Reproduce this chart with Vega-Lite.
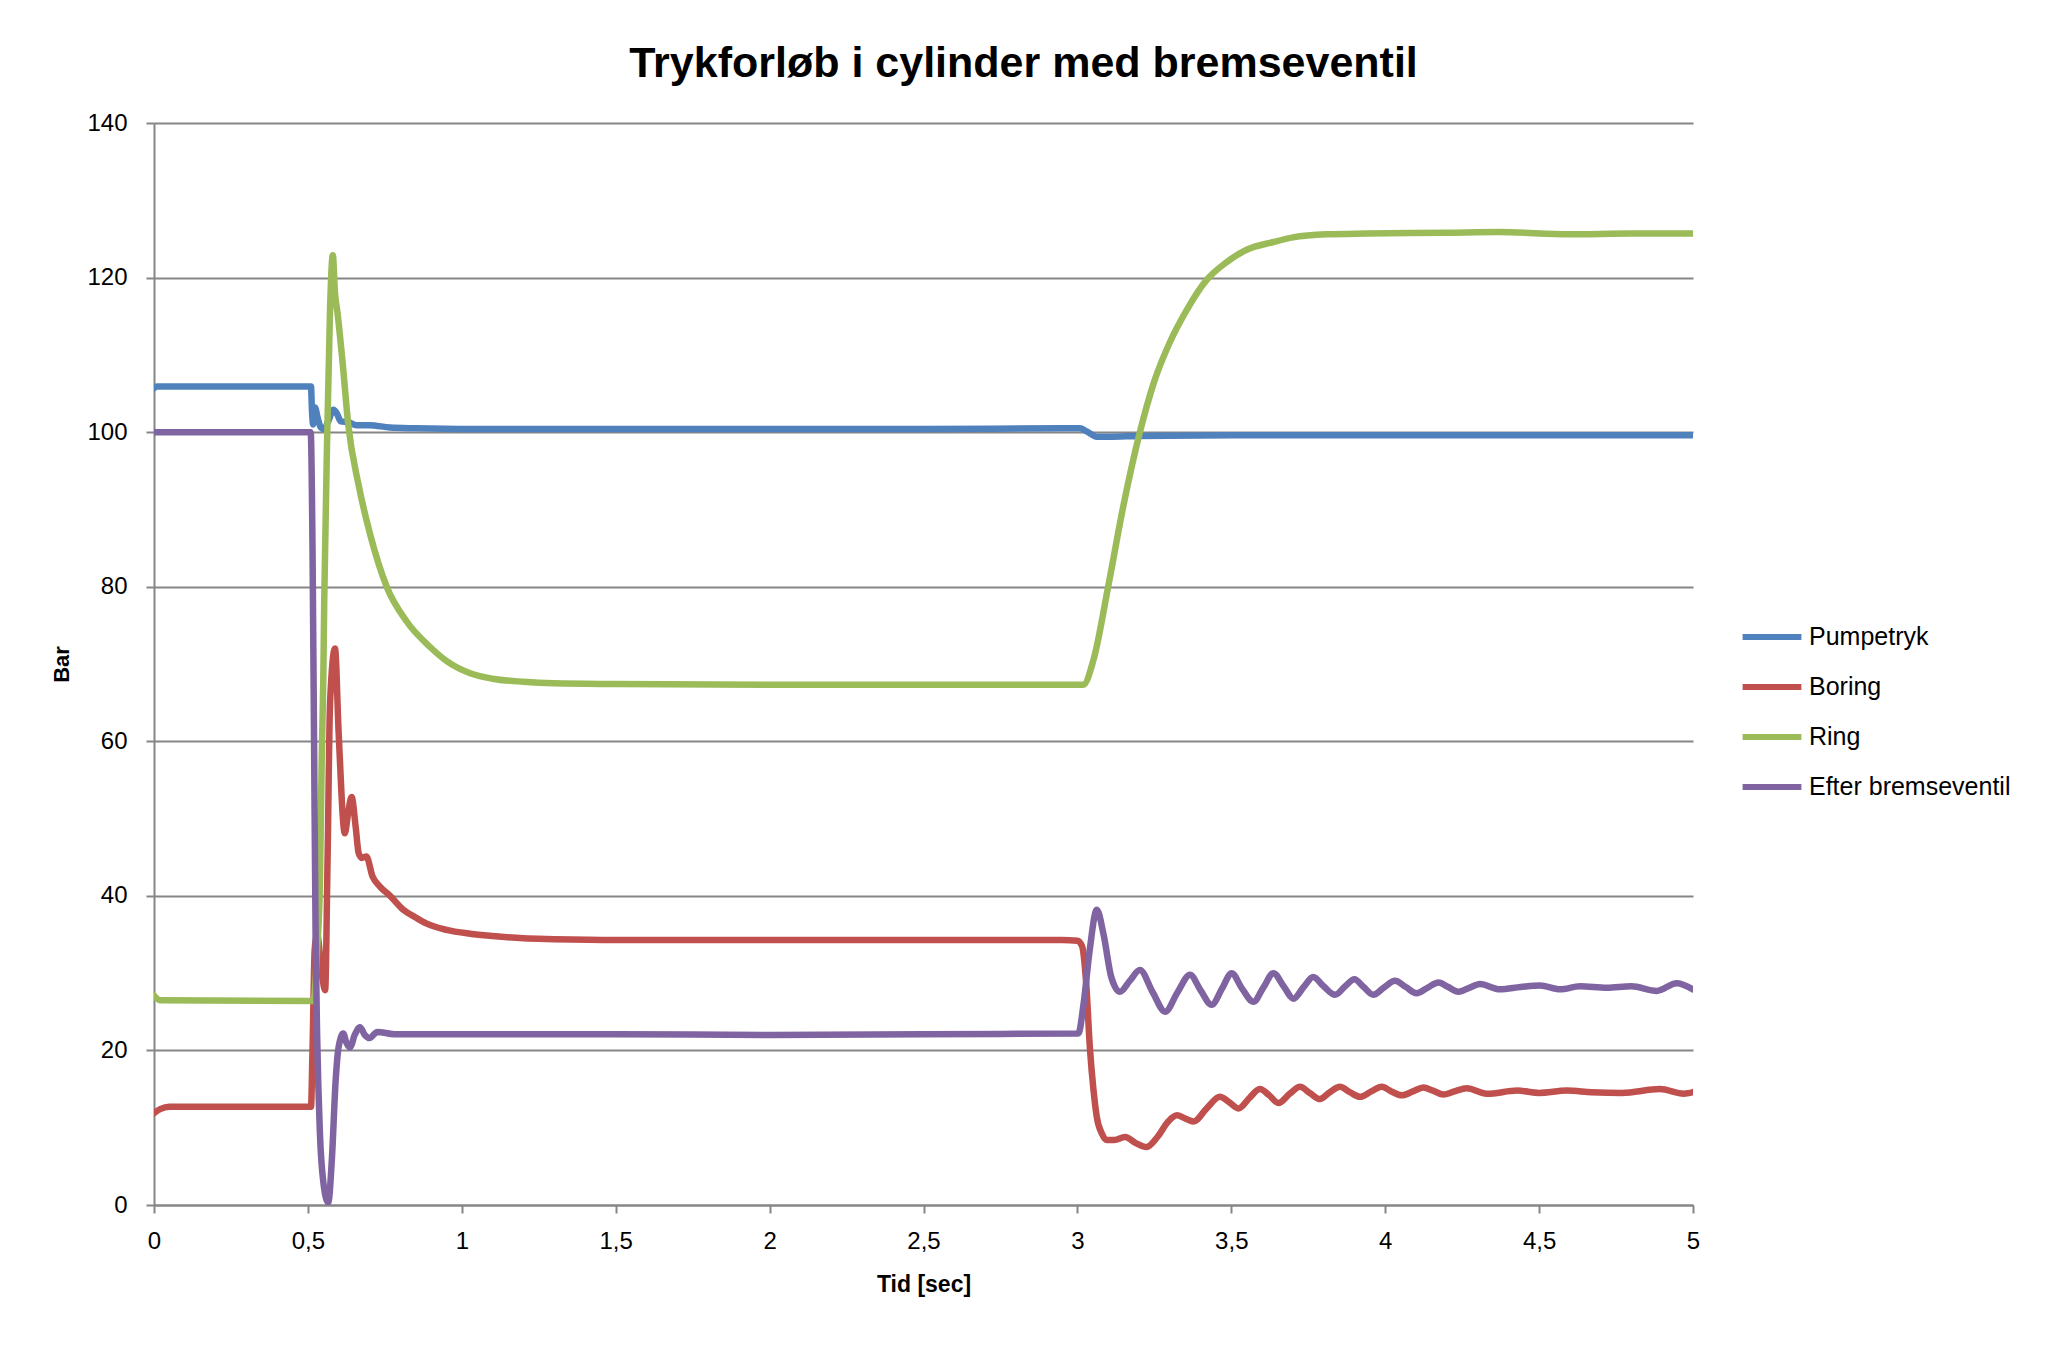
{
  "$schema": "https://vega.github.io/schema/vega-lite/v6.json",
  "width": 1539,
  "height": 1082,
  "autosize": {"type": "none"},
  "padding": {"left": 154, "top": 123, "right": 357, "bottom": 140},
  "background": "white",
  "title": {
    "text": "Trykforløb i cylinder med bremseventil",
    "fontSize": 43,
    "fontWeight": "bold",
    "font": "Liberation Sans",
    "color": "black",
    "anchor": "middle",
    "frame": "group",
    "dx": 100,
    "baseline": "alphabetic",
    "offset": -9
  },
  "data": {
    "values": [
      {"s": "Pumpetryk", "t": 0, "v": 105.7},
      {"s": "Pumpetryk", "t": 0.01, "v": 105.9},
      {"s": "Pumpetryk", "t": 0.51, "v": 105.9},
      {"s": "Pumpetryk", "t": 0.513, "v": 103.0},
      {"s": "Pumpetryk", "t": 0.517, "v": 101.0},
      {"s": "Pumpetryk", "t": 0.523, "v": 103.2},
      {"s": "Pumpetryk", "t": 0.532, "v": 101.8},
      {"s": "Pumpetryk", "t": 0.542, "v": 100.6},
      {"s": "Pumpetryk", "t": 0.552, "v": 100.4},
      {"s": "Pumpetryk", "t": 0.567, "v": 101.5},
      {"s": "Pumpetryk", "t": 0.583, "v": 102.9},
      {"s": "Pumpetryk", "t": 0.593, "v": 102.5},
      {"s": "Pumpetryk", "t": 0.607, "v": 101.4},
      {"s": "Pumpetryk", "t": 0.631, "v": 101.3},
      {"s": "Pumpetryk", "t": 0.658, "v": 100.9},
      {"s": "Pumpetryk", "t": 0.7, "v": 100.9},
      {"s": "Pumpetryk", "t": 0.767, "v": 100.6},
      {"s": "Pumpetryk", "t": 0.85, "v": 100.5},
      {"s": "Pumpetryk", "t": 1.03, "v": 100.4},
      {"s": "Pumpetryk", "t": 1.5, "v": 100.4},
      {"s": "Pumpetryk", "t": 2.0, "v": 100.4},
      {"s": "Pumpetryk", "t": 2.5, "v": 100.4},
      {"s": "Pumpetryk", "t": 2.95, "v": 100.5},
      {"s": "Pumpetryk", "t": 3.008, "v": 100.5},
      {"s": "Pumpetryk", "t": 3.03, "v": 100.1},
      {"s": "Pumpetryk", "t": 3.063, "v": 99.4},
      {"s": "Pumpetryk", "t": 3.1, "v": 99.4},
      {"s": "Pumpetryk", "t": 3.2, "v": 99.5},
      {"s": "Pumpetryk", "t": 3.5, "v": 99.6},
      {"s": "Pumpetryk", "t": 4.0, "v": 99.6},
      {"s": "Pumpetryk", "t": 4.5, "v": 99.6},
      {"s": "Pumpetryk", "t": 5.0, "v": 99.6},

      {"s": "Boring", "t": 0, "v": 11.9},
      {"s": "Boring", "t": 0.02, "v": 12.4},
      {"s": "Boring", "t": 0.05, "v": 12.7},
      {"s": "Boring", "t": 0.51, "v": 12.7},
      {"s": "Boring", "t": 0.515, "v": 20},
      {"s": "Boring", "t": 0.522, "v": 33},
      {"s": "Boring", "t": 0.53, "v": 35},
      {"s": "Boring", "t": 0.545, "v": 30},
      {"s": "Boring", "t": 0.556, "v": 27.8},
      {"s": "Boring", "t": 0.564, "v": 45},
      {"s": "Boring", "t": 0.572, "v": 65},
      {"s": "Boring", "t": 0.588, "v": 72},
      {"s": "Boring", "t": 0.6, "v": 61},
      {"s": "Boring", "t": 0.62, "v": 48.1},
      {"s": "Boring", "t": 0.63, "v": 50.5},
      {"s": "Boring", "t": 0.642, "v": 52.8},
      {"s": "Boring", "t": 0.655, "v": 49},
      {"s": "Boring", "t": 0.665, "v": 45.5},
      {"s": "Boring", "t": 0.675, "v": 44.9},
      {"s": "Boring", "t": 0.69, "v": 45.1},
      {"s": "Boring", "t": 0.71, "v": 42.5},
      {"s": "Boring", "t": 0.734, "v": 41.2},
      {"s": "Boring", "t": 0.767, "v": 40.0},
      {"s": "Boring", "t": 0.81, "v": 38.2},
      {"s": "Boring", "t": 0.85, "v": 37.2},
      {"s": "Boring", "t": 0.886, "v": 36.4},
      {"s": "Boring", "t": 0.95, "v": 35.6},
      {"s": "Boring", "t": 1.027, "v": 35.1},
      {"s": "Boring", "t": 1.1, "v": 34.8},
      {"s": "Boring", "t": 1.2, "v": 34.5},
      {"s": "Boring", "t": 1.3, "v": 34.4},
      {"s": "Boring", "t": 1.5, "v": 34.3},
      {"s": "Boring", "t": 2.0, "v": 34.3},
      {"s": "Boring", "t": 2.5, "v": 34.3},
      {"s": "Boring", "t": 2.95, "v": 34.3},
      {"s": "Boring", "t": 3.0, "v": 34.2},
      {"s": "Boring", "t": 3.015, "v": 33.5},
      {"s": "Boring", "t": 3.028, "v": 29},
      {"s": "Boring", "t": 3.041, "v": 20.1},
      {"s": "Boring", "t": 3.052, "v": 15},
      {"s": "Boring", "t": 3.063, "v": 11.4},
      {"s": "Boring", "t": 3.08, "v": 9.2},
      {"s": "Boring", "t": 3.095, "v": 8.4},
      {"s": "Boring", "t": 3.12, "v": 8.4},
      {"s": "Boring", "t": 3.155, "v": 8.8},
      {"s": "Boring", "t": 3.19, "v": 8.0},
      {"s": "Boring", "t": 3.225, "v": 7.5},
      {"s": "Boring", "t": 3.26, "v": 8.8},
      {"s": "Boring", "t": 3.295, "v": 10.8},
      {"s": "Boring", "t": 3.323, "v": 11.6},
      {"s": "Boring", "t": 3.35, "v": 11.2},
      {"s": "Boring", "t": 3.377, "v": 10.8},
      {"s": "Boring", "t": 3.42, "v": 12.5},
      {"s": "Boring", "t": 3.463, "v": 14.0},
      {"s": "Boring", "t": 3.49, "v": 13.4},
      {"s": "Boring", "t": 3.523, "v": 12.5},
      {"s": "Boring", "t": 3.56, "v": 13.9},
      {"s": "Boring", "t": 3.593, "v": 15.0},
      {"s": "Boring", "t": 3.623, "v": 14.2},
      {"s": "Boring", "t": 3.653, "v": 13.2},
      {"s": "Boring", "t": 3.69, "v": 14.4},
      {"s": "Boring", "t": 3.723, "v": 15.3},
      {"s": "Boring", "t": 3.755, "v": 14.5},
      {"s": "Boring", "t": 3.788, "v": 13.7},
      {"s": "Boring", "t": 3.82, "v": 14.6},
      {"s": "Boring", "t": 3.853, "v": 15.3},
      {"s": "Boring", "t": 3.885, "v": 14.6},
      {"s": "Boring", "t": 3.918, "v": 14.0},
      {"s": "Boring", "t": 3.955, "v": 14.7},
      {"s": "Boring", "t": 3.989, "v": 15.3},
      {"s": "Boring", "t": 4.02, "v": 14.7},
      {"s": "Boring", "t": 4.054, "v": 14.2},
      {"s": "Boring", "t": 4.09, "v": 14.7},
      {"s": "Boring", "t": 4.124, "v": 15.2},
      {"s": "Boring", "t": 4.155, "v": 14.8},
      {"s": "Boring", "t": 4.189, "v": 14.3},
      {"s": "Boring", "t": 4.225, "v": 14.7},
      {"s": "Boring", "t": 4.265, "v": 15.1},
      {"s": "Boring", "t": 4.33, "v": 14.4},
      {"s": "Boring", "t": 4.43, "v": 14.8},
      {"s": "Boring", "t": 4.5, "v": 14.5},
      {"s": "Boring", "t": 4.59, "v": 14.8},
      {"s": "Boring", "t": 4.67, "v": 14.6},
      {"s": "Boring", "t": 4.77, "v": 14.5},
      {"s": "Boring", "t": 4.893, "v": 15.0},
      {"s": "Boring", "t": 4.97, "v": 14.4},
      {"s": "Boring", "t": 5.0, "v": 14.6},

      {"s": "Ring", "t": 0, "v": 27.1},
      {"s": "Ring", "t": 0.02, "v": 26.5},
      {"s": "Ring", "t": 0.518, "v": 26.4},
      {"s": "Ring", "t": 0.53, "v": 33},
      {"s": "Ring", "t": 0.539, "v": 41.6},
      {"s": "Ring", "t": 0.545, "v": 58},
      {"s": "Ring", "t": 0.55, "v": 68},
      {"s": "Ring", "t": 0.553, "v": 78},
      {"s": "Ring", "t": 0.563, "v": 100},
      {"s": "Ring", "t": 0.572, "v": 116},
      {"s": "Ring", "t": 0.581, "v": 122.9},
      {"s": "Ring", "t": 0.588, "v": 118},
      {"s": "Ring", "t": 0.596, "v": 115.5},
      {"s": "Ring", "t": 0.613, "v": 108.9},
      {"s": "Ring", "t": 0.631, "v": 101},
      {"s": "Ring", "t": 0.664, "v": 93.3},
      {"s": "Ring", "t": 0.702, "v": 86.8},
      {"s": "Ring", "t": 0.756, "v": 80},
      {"s": "Ring", "t": 0.821, "v": 75.5},
      {"s": "Ring", "t": 0.897, "v": 72.2},
      {"s": "Ring", "t": 0.95, "v": 70.4},
      {"s": "Ring", "t": 1.027, "v": 68.8},
      {"s": "Ring", "t": 1.1, "v": 68.1},
      {"s": "Ring", "t": 1.2, "v": 67.7},
      {"s": "Ring", "t": 1.3, "v": 67.5},
      {"s": "Ring", "t": 1.5, "v": 67.4},
      {"s": "Ring", "t": 2.0, "v": 67.3},
      {"s": "Ring", "t": 2.5, "v": 67.3},
      {"s": "Ring", "t": 3.019, "v": 67.3},
      {"s": "Ring", "t": 3.052, "v": 70.5},
      {"s": "Ring", "t": 3.1, "v": 80},
      {"s": "Ring", "t": 3.149, "v": 90.4},
      {"s": "Ring", "t": 3.203, "v": 100},
      {"s": "Ring", "t": 3.25, "v": 106.6},
      {"s": "Ring", "t": 3.3, "v": 111.6},
      {"s": "Ring", "t": 3.355, "v": 115.8},
      {"s": "Ring", "t": 3.42, "v": 119.7},
      {"s": "Ring", "t": 3.485, "v": 122.0},
      {"s": "Ring", "t": 3.55, "v": 123.6},
      {"s": "Ring", "t": 3.637, "v": 124.6},
      {"s": "Ring", "t": 3.7, "v": 125.2},
      {"s": "Ring", "t": 3.81, "v": 125.6},
      {"s": "Ring", "t": 3.94, "v": 125.7},
      {"s": "Ring", "t": 4.2, "v": 125.8},
      {"s": "Ring", "t": 4.37, "v": 125.9},
      {"s": "Ring", "t": 4.6, "v": 125.6},
      {"s": "Ring", "t": 4.8, "v": 125.7},
      {"s": "Ring", "t": 5.0, "v": 125.7},

      {"s": "Efter bremseventil", "t": 0, "v": 100.0},
      {"s": "Efter bremseventil", "t": 0.509, "v": 100.0},
      {"s": "Efter bremseventil", "t": 0.515, "v": 85},
      {"s": "Efter bremseventil", "t": 0.52, "v": 60},
      {"s": "Efter bremseventil", "t": 0.525, "v": 35},
      {"s": "Efter bremseventil", "t": 0.53, "v": 22},
      {"s": "Efter bremseventil", "t": 0.539, "v": 9.3},
      {"s": "Efter bremseventil", "t": 0.55, "v": 3},
      {"s": "Efter bremseventil", "t": 0.566, "v": 0.3},
      {"s": "Efter bremseventil", "t": 0.578, "v": 6},
      {"s": "Efter bremseventil", "t": 0.59, "v": 16},
      {"s": "Efter bremseventil", "t": 0.6, "v": 20.5},
      {"s": "Efter bremseventil", "t": 0.615, "v": 22.2},
      {"s": "Efter bremseventil", "t": 0.625, "v": 21},
      {"s": "Efter bremseventil", "t": 0.637, "v": 20.4},
      {"s": "Efter bremseventil", "t": 0.652, "v": 22},
      {"s": "Efter bremseventil", "t": 0.669, "v": 23.0},
      {"s": "Efter bremseventil", "t": 0.685, "v": 22},
      {"s": "Efter bremseventil", "t": 0.7, "v": 21.6},
      {"s": "Efter bremseventil", "t": 0.726, "v": 22.4},
      {"s": "Efter bremseventil", "t": 0.78, "v": 22.1},
      {"s": "Efter bremseventil", "t": 1.0, "v": 22.1},
      {"s": "Efter bremseventil", "t": 1.5, "v": 22.1},
      {"s": "Efter bremseventil", "t": 2.0, "v": 22.0},
      {"s": "Efter bremseventil", "t": 2.5, "v": 22.1},
      {"s": "Efter bremseventil", "t": 3.003, "v": 22.2},
      {"s": "Efter bremseventil", "t": 3.02, "v": 26},
      {"s": "Efter bremseventil", "t": 3.04, "v": 33},
      {"s": "Efter bremseventil", "t": 3.063, "v": 38.2},
      {"s": "Efter bremseventil", "t": 3.085, "v": 35},
      {"s": "Efter bremseventil", "t": 3.11, "v": 29.5},
      {"s": "Efter bremseventil", "t": 3.138, "v": 27.6},
      {"s": "Efter bremseventil", "t": 3.17, "v": 29},
      {"s": "Efter bremseventil", "t": 3.203, "v": 30.4},
      {"s": "Efter bremseventil", "t": 3.245, "v": 27.5},
      {"s": "Efter bremseventil", "t": 3.285, "v": 25.0},
      {"s": "Efter bremseventil", "t": 3.325, "v": 27.5},
      {"s": "Efter bremseventil", "t": 3.366, "v": 29.8},
      {"s": "Efter bremseventil", "t": 3.4, "v": 27.8},
      {"s": "Efter bremseventil", "t": 3.436, "v": 25.9},
      {"s": "Efter bremseventil", "t": 3.47, "v": 28},
      {"s": "Efter bremseventil", "t": 3.501, "v": 30.0},
      {"s": "Efter bremseventil", "t": 3.535, "v": 28},
      {"s": "Efter bremseventil", "t": 3.572, "v": 26.3},
      {"s": "Efter bremseventil", "t": 3.605, "v": 28.2},
      {"s": "Efter bremseventil", "t": 3.637, "v": 30.0},
      {"s": "Efter bremseventil", "t": 3.67, "v": 28.3},
      {"s": "Efter bremseventil", "t": 3.702, "v": 26.7},
      {"s": "Efter bremseventil", "t": 3.735, "v": 28.2},
      {"s": "Efter bremseventil", "t": 3.766, "v": 29.5},
      {"s": "Efter bremseventil", "t": 3.8, "v": 28.3},
      {"s": "Efter bremseventil", "t": 3.837, "v": 27.2},
      {"s": "Efter bremseventil", "t": 3.87, "v": 28.3},
      {"s": "Efter bremseventil", "t": 3.9, "v": 29.2},
      {"s": "Efter bremseventil", "t": 3.93, "v": 28.2},
      {"s": "Efter bremseventil", "t": 3.961, "v": 27.2},
      {"s": "Efter bremseventil", "t": 3.995, "v": 28.1},
      {"s": "Efter bremseventil", "t": 4.032, "v": 29.0},
      {"s": "Efter bremseventil", "t": 4.067, "v": 28.2},
      {"s": "Efter bremseventil", "t": 4.102, "v": 27.4},
      {"s": "Efter bremseventil", "t": 4.137, "v": 28.1},
      {"s": "Efter bremseventil", "t": 4.173, "v": 28.8},
      {"s": "Efter bremseventil", "t": 4.205, "v": 28.2},
      {"s": "Efter bremseventil", "t": 4.238, "v": 27.6},
      {"s": "Efter bremseventil", "t": 4.273, "v": 28.1},
      {"s": "Efter bremseventil", "t": 4.308, "v": 28.6},
      {"s": "Efter bremseventil", "t": 4.373, "v": 27.9},
      {"s": "Efter bremseventil", "t": 4.44, "v": 28.2},
      {"s": "Efter bremseventil", "t": 4.503, "v": 28.4},
      {"s": "Efter bremseventil", "t": 4.568, "v": 27.9},
      {"s": "Efter bremseventil", "t": 4.633, "v": 28.3},
      {"s": "Efter bremseventil", "t": 4.72, "v": 28.1},
      {"s": "Efter bremseventil", "t": 4.8, "v": 28.3},
      {"s": "Efter bremseventil", "t": 4.882, "v": 27.7},
      {"s": "Efter bremseventil", "t": 4.947, "v": 28.7},
      {"s": "Efter bremseventil", "t": 5.0, "v": 27.9}
    ]
  },
  "mark": {
    "type": "line",
    "strokeWidth": 6.5,
    "interpolate": "monotone",
    "strokeCap": "round",
    "strokeJoin": "round",
    "clip": true
  },
  "encoding": {
    "x": {
      "field": "t",
      "type": "quantitative",
      "scale": {"domain": [0, 5], "nice": false, "zero": false},
      "axis": {
        "title": "Tid [sec]",
        "values": [0, 0.5, 1, 1.5, 2, 2.5, 3, 3.5, 4, 4.5, 5],
        "labelExpr": "replace(toString(datum.value), '.', ',')",
        "grid": false,
        "labelPadding": 16,
        "titlePadding": 20,
        "titleFontSize": 23,
        "labelFlush": false
      }
    },
    "y": {
      "field": "v",
      "type": "quantitative",
      "scale": {"domain": [0, 140], "nice": false},
      "axis": {
        "title": "Bar",
        "values": [0, 20, 40, 60, 80, 100, 120, 140],
        "grid": true,
        "labelPadding": 19,
        "titlePadding": 13,
        "titleFontSize": 22
      }
    },
    "color": {
      "field": "s",
      "type": "nominal",
      "scale": {
        "domain": ["Pumpetryk", "Boring", "Ring", "Efter bremseventil"],
        "range": ["#4F81BD", "#C0504D", "#9BBB59", "#8064A2"]
      },
      "legend": {
        "title": null,
        "orient": "none",
        "legendX": 1594,
        "legendY": 490,
        "padding": 0,
        "symbolType": "M-1.4,0L1.4,0",
        "symbolSize": 1764,
        "symbolStrokeWidth": 6,
        "labelOffset": 13,
        "labelFontSize": 25,
        "labelColor": "black",
        "labelFont": "Liberation Sans",
        "rowPadding": 13,
        "labelLimit": 400
      }
    }
  },
  "config": {
    "view": {"stroke": null},
    "font": "Liberation Sans",
    "axis": {
      "domainColor": "#868686",
      "domainWidth": 2,
      "tickColor": "#868686",
      "tickWidth": 2,
      "tickSize": 8,
      "gridColor": "#868686",
      "gridWidth": 2,
      "labelFontSize": 24,
      "labelColor": "black",
      "labelFont": "Liberation Sans",
      "titleColor": "black",
      "titleFont": "Liberation Sans",
      "titleFontWeight": "bold"
    }
  }
}
